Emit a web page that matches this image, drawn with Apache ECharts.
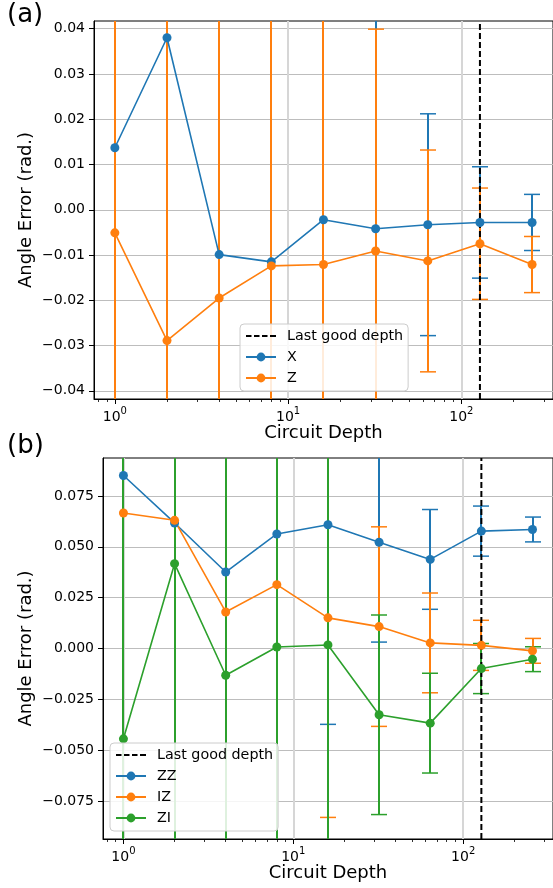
<!DOCTYPE html>
<html lang="en">
<head>
    <meta charset="utf-8">
    <title>Angle Error vs Circuit Depth</title>
    <style>
        html, body { margin: 0; padding: 0; background: #fff; }
    </style>
</head>
<body>
    <div id="main" style="width:553px;height:888px;"></div>
    <script src="https://cdn.jsdelivr.net/npm/echarts@6/dist/echarts.min.js"></script>
    <script type="text/javascript">
        // data
        var depths = [1, 2, 4, 8, 16, 32, 64, 128, 256];
        var lastGoodDepth = 128;

        // panel (a)
        var xVals = [0.0137, 0.0380, -0.0099, -0.0115, -0.0022, -0.0042, -0.0033, -0.0028, -0.0028];
        var zVals = [-0.0051, -0.0289, -0.0195, -0.0124, -0.0121, -0.0091, -0.0113, -0.0075, -0.0121];
        var xSd = [0.78, 0.39, 0.196, 0.196, 0.098, 0.049, 0.0245, 0.0123, 0.0062];
        var zSd = [0.78, 0.39, 0.196, 0.196, 0.098, 0.049, 0.0245, 0.0123, 0.0062];

        // panel (b)
        var zzVals = [0.0850, 0.0617, 0.0376, 0.0563, 0.0608, 0.0522, 0.0438, 0.0577, 0.0585];
        var izVals = [0.0666, 0.0630, 0.0180, 0.0314, 0.0151, 0.0108, 0.0028, 0.0016, -0.0011];
        var ziVals = [-0.0443, 0.0417, -0.0131, 0.0008, 0.0018, -0.0325, -0.0366, -0.0098, -0.0052];
        var zzSd = [0.78, 0.39, 0.196, 0.196, 0.098, 0.049, 0.0245, 0.0123, 0.0061];
        var izSd = [0.78, 0.39, 0.196, 0.196, 0.098, 0.049, 0.0245, 0.0123, 0.0061];
        var ziSd = [0.78, 0.39, 0.196, 0.196, 0.098, 0.049, 0.0245, 0.0123, 0.0061];

        // ticks
        var xMajorTicks = [1, 10, 100];
        var xMinorTicks = [0.8, 0.9, 2, 3, 4, 5, 6, 7, 8, 9, 20, 30, 40, 50, 60, 70, 80, 90, 200, 300];
        var yTicksA = [-0.04, -0.03, -0.02, -0.01, 0, 0.01, 0.02, 0.03, 0.04];
        var yTicksB = [-0.075, -0.05, -0.025, 0, 0.025, 0.05, 0.075];

        var xMin = 0.758, xMax = 338;
        var yRangeA = [-0.0418, 0.0417];
        var yRangeB = [-0.0935, 0.0936];

        var BLUE = '#1f77b4', ORANGE = '#ff7f0e', GREEN = '#2ca02c';
        var FONT = 'DejaVu Sans';
        // dashed handle for the legend (30 x 2 box)
        var DASH_ICON = 'path://M0,0h5.5v2h-5.5z M8,0h5.5v2h-5.5z M16,0h5.5v2h-5.5z M24,0h6v2h-6z';

        var myChart = echarts.init(document.getElementById('main'), null, { renderer: 'canvas' });

        function minus(s) { return s.replace('-', '\u2212'); }

        function pairs(vals) {
            return depths.map(function (d, i) { return [d, vals[i]]; });
        }
        function triples(vals, sd) {
            return depths.map(function (d, i) { return [d, vals[i], sd[i]]; });
        }

        // error bars drawn with custom series, clipped to the plot box
        function errRender(color) {
            return function (params, api) {
                var x = api.value(0), y = api.value(1), e = api.value(2);
                var top = api.coord([x, y + e]);
                var bot = api.coord([x, y - e]);
                var cs = params.coordSys;
                var px = Math.round(top[0]);   // 2px bar on whole pixel columns
                var yTop = Math.max(top[1], cs.y);
                var yBot = Math.min(bot[1], cs.y + cs.height);
                var children = [{
                    type: 'line',
                    shape: { x1: px, y1: yTop, x2: px, y2: yBot },
                    style: { stroke: color, lineWidth: 2 }
                }];
                var cw = 8;
                if (top[1] >= cs.y) {
                    children.push({ type: 'line', shape: { x1: px - cw, y1: top[1], x2: px + cw, y2: top[1] },
                        style: { stroke: color, lineWidth: 1.5 } });
                }
                if (bot[1] <= cs.y + cs.height) {
                    children.push({ type: 'line', shape: { x1: px - cw, y1: bot[1], x2: px + cw, y2: bot[1] },
                        style: { stroke: color, lineWidth: 1.5 } });
                }
                return { type: 'group', children: children };
            };
        }

        function errSeries(name, idx, vals, sd, color) {
            return {
                name: name,
                type: 'custom',
                xAxisIndex: idx * 2,
                yAxisIndex: idx,
                renderItem: errRender(color),
                encode: { x: 0, y: 1 },
                data: triples(vals, sd),
                silent: true,
                clip: false
            };
        }

        function lineSeries(name, idx, vals, color) {
            return {
                name: name,
                type: 'line',
                xAxisIndex: idx * 2,
                yAxisIndex: idx,
                data: pairs(vals),
                symbol: 'circle',
                symbolSize: 9,
                showAllSymbol: true,
                color: color,
                itemStyle: { color: color },
                lineStyle: { color: color, width: 1.6 },
                animation: false
            };
        }

        function dashSeries(idx, yr) {
            return {
                name: 'Last good depth',
                type: 'line',
                xAxisIndex: idx * 2,
                yAxisIndex: idx,
                data: [[lastGoodDepth, yr[0]], [lastGoodDepth, yr[1]]],
                symbol: 'none',
                color: '#000',
                lineStyle: { color: '#000', width: 2, type: [6, 3] },
                animation: false
            };
        }

        function xAxes(gridIndex) {
            return [{
                type: 'log',
                gridIndex: gridIndex,
                min: xMin,
                max: xMax,
                logBase: 10,
                name: 'Circuit Depth',
                nameLocation: 'middle',
                nameGap: 25,
                nameMoveOverlap: false,
                nameTextStyle: { fontFamily: FONT, fontSize: 18, color: '#000', verticalAlign: 'top' },
                axisLine: { show: true, onZero: false, lineStyle: { color: '#000', width: 1 } },
                axisTick: { show: true, length: 5, customValues: xMajorTicks, lineStyle: { color: '#000', width: 1 } },
                axisLabel: {
                    show: true,
                    customValues: xMajorTicks,
                    margin: 7,
                    formatter: function (v) {
                        var p = Math.round(Math.log10(v));
                        return '{b|10}{s|' + p + '}';
                    },
                    rich: {
                        b: { fontFamily: FONT, fontSize: 14, color: '#000', verticalAlign: 'bottom', lineHeight: 18 },
                        s: { fontFamily: FONT, fontSize: 10, color: '#000', verticalAlign: 'top', lineHeight: 18, padding: [0, 0, 6, 0] }
                    }
                },
                splitLine: { show: true, lineStyle: { color: '#d6d6d6', width: 2 } },
                minorTick: { show: false },
                minorSplitLine: { show: false }
            }, {
                type: 'log',
                gridIndex: gridIndex,
                min: xMin,
                max: xMax,
                logBase: 10,
                position: 'bottom',
                axisLine: { show: false, onZero: false },
                axisTick: { show: true, length: 3, customValues: xMinorTicks, lineStyle: { color: '#000', width: 0.8 } },
                axisLabel: { show: false },
                splitLine: { show: false }
            }];
        }

        function yAxis(gridIndex, yr, ticks, digits, nameGap) {
            return {
                type: 'value',
                gridIndex: gridIndex,
                min: yr[0],
                max: yr[1],
                name: 'Angle Error (rad.)',
                nameLocation: 'middle',
                nameRotate: 90,
                nameGap: nameGap,
                nameMoveOverlap: false,
                nameTextStyle: { fontFamily: FONT, fontSize: 18, color: '#000' },
                axisLine: { show: true, onZero: false, lineStyle: { color: '#000', width: 1 } },
                axisTick: { show: true, length: 5, customValues: ticks, lineStyle: { color: '#000' } },
                axisLabel: {
                    customValues: ticks,
                    margin: 9,
                    fontFamily: FONT,
                    fontSize: 14,
                    color: '#000',
                    formatter: function (v) { return minus(v.toFixed(digits)); }
                },
                splitLine: { show: true, lineStyle: { color: '#bdbdbd', width: 1 } }
            };
        }

        function legendOpt(left, top, names) {
            var data = names.map(function (n) {
                return n === 'Last good depth' ? { name: n, icon: DASH_ICON, itemStyle: { color: '#000' } } : { name: n };
            });
            return {
                show: true,
                orient: 'vertical',
                left: left,
                top: top,
                data: data,
                selectedMode: false,
                itemWidth: 30,
                itemHeight: 11,
                itemGap: 7,
                padding: [5, 5, 6, 5],
                backgroundColor: 'rgba(255,255,255,0.85)',
                borderColor: '#cccccc',
                borderWidth: 1,
                borderRadius: 4,
                symbolKeepAspect: true,
                textStyle: { fontFamily: FONT, fontSize: 14.3, color: '#000', padding: [0, 0, 0, 6], lineHeight: 14 }
            };
        }

        var option = {
            animation: false,
            backgroundColor: '#fff',
            textStyle: { fontFamily: FONT },
            title: [
                { text: '(a)', left: 7, top: 2, padding: 0, textStyle: { fontFamily: FONT, fontSize: 26, fontWeight: 'normal', color: '#000' } },
                { text: '(b)', left: 7, top: 433, padding: 0, textStyle: { fontFamily: FONT, fontSize: 26, fontWeight: 'normal', color: '#000' } }
            ],
            grid: [
                { left: 94, top: 21, width: 461, height: 378, show: true, borderColor: '#000', borderWidth: 1, containLabel: false },
                { left: 103, top: 458, width: 452, height: 381, show: true, borderColor: '#000', borderWidth: 1, containLabel: false }
            ],
            legend: [
                legendOpt(240, 324, ['Last good depth', 'X', 'Z']),
                legendOpt(110, 743, ['Last good depth', 'ZZ', 'IZ', 'ZI'])
            ],
            xAxis: xAxes(0).concat(xAxes(1)),
            yAxis: [
                yAxis(0, yRangeA, yTicksA, 2, 59),
                yAxis(1, yRangeB, yTicksB, 3, 68)
            ],
            series: [
                dashSeries(0, yRangeA),
                errSeries('X err', 0, xVals, xSd, BLUE),
                lineSeries('X', 0, xVals, BLUE),
                errSeries('Z err', 0, zVals, zSd, ORANGE),
                lineSeries('Z', 0, zVals, ORANGE),

                dashSeries(1, yRangeB),
                errSeries('ZZ err', 1, zzVals, zzSd, BLUE),
                lineSeries('ZZ', 1, zzVals, BLUE),
                errSeries('IZ err', 1, izVals, izSd, ORANGE),
                lineSeries('IZ', 1, izVals, ORANGE),
                errSeries('ZI err', 1, ziVals, ziSd, GREEN),
                lineSeries('ZI', 1, ziVals, GREEN)
            ]
        };
        myChart.setOption(option);
    </script>
</body>
</html>
